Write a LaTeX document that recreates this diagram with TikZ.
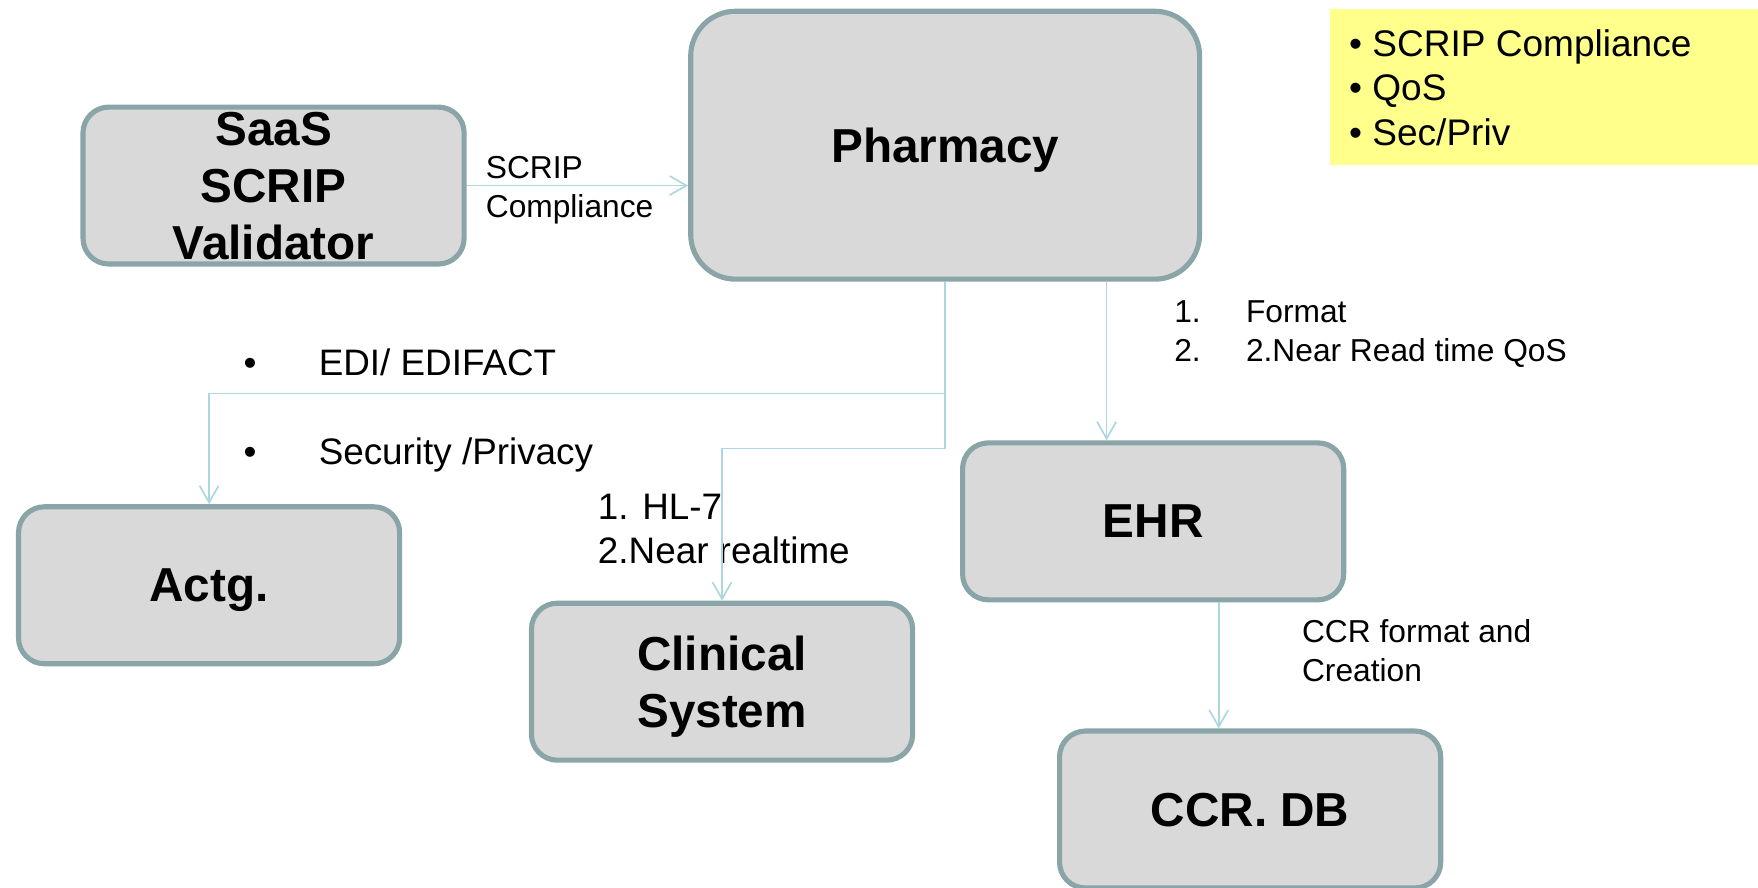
\documentclass[tikz,border=0pt]{standalone}
\usepackage{fontspec}
\setmainfont{Liberation Sans}
\usetikzlibrary{arrows.meta}
\definecolor{boxfill}{RGB}{217,217,217}
\definecolor{boxline}{RGB}{138,165,168}
\definecolor{linkcol}{RGB}{170,216,222}
\definecolor{notefill}{RGB}{255,255,140}
\begin{document}
\begin{tikzpicture}[x=0.02cm,y=-0.02cm,
  block/.style={draw=boxline, line width=2.6pt, fill=boxfill,
    rounded corners=0.46cm, minimum width=6.8cm, minimum height=2.8cm,
    inner sep=0pt, align=center, text depth=0pt,
    font=\bfseries\fontsize{24.2}{29}\selectfont},
  link/.style={draw=linkcol, line width=0.85pt,
    -{Straight Barb[length=0.3cm,width=0.34cm]}},
  lbl/.style={anchor=west, inner sep=0pt, align=left,
    font=\fontsize{16.1}{19.9}\selectfont},
  biglbl/.style={anchor=west, inner sep=0pt, align=left,
    font=\fontsize{18.7}{22.3}\selectfont}]
\useasboundingbox (0,0) rectangle (1568,792);

% requirement note
\node[fill=notefill, anchor=north west, inner sep=0pt,
      minimum width=7.64cm, minimum height=2.78cm] (note) at (1186,8) {};
\node[biglbl, font=\fontsize{18.8}{22.6}\selectfont] (notetext) at (1203,78)
  {• SCRIP Compliance\\• QoS\\• Sec/Priv};

% systems
\node[block] (saas) at (244,165.5) {SaaS\\SCRIP\\Validator};
\node[block, minimum width=9.08cm, minimum height=4.78cm,
      rounded corners=0.8cm] (pharm) at (843,129.5) {Pharmacy};
\node[block] (actg) at (186.5,522) {Actg.};
\node[block] (clin) at (644,608) {Clinical\\System};
\node[block] (ehr) at (1028.5,465) {EHR};
\node[block] (ccr) at (1115,722) {CCR. DB};

% connector labels
\node[lbl] (lscrip) at (433,169.5) {SCRIP\\Compliance};
\node[biglbl, anchor=base west] (ledi) at (217,334.5)
  {\makebox[1.34cm][l]{•}EDI/ EDIFACT};
\node[biglbl, anchor=base west] (lsec) at (217,414.5)
  {\makebox[1.34cm][l]{•}Security /Privacy};
\node[biglbl] (lhl) at (533,471.5) {1. HL-7\\2.Near realtime};
\node[lbl] (lfmt) at (1047,298)
  {\makebox[1.28cm][l]{1.}Format\\\makebox[1.28cm][l]{2.}2.Near Read time QoS};
\node[lbl] (lccr) at (1161,580.5) {CCR format and\\Creation};

% connectors
\coordinate (edi) at (843,351);
\coordinate (hl7) at (843,400);
\coordinate (ehrx) at (987,0);
\coordinate (ccrx) at (1087,0);
\draw[link] (saas.east) -- (saas.east -| pharm.west);
\draw[link] (pharm.south) -- (edi) -| (actg.north);
\draw[link] (edi) -- (hl7) -| (clin.north);
\draw[link] (pharm.south -| ehrx) -- (ehr.north -| ehrx);
\draw[link] (ehr.south -| ccrx) -- (ccr.north -| ccrx);
\end{tikzpicture}
\end{document}
